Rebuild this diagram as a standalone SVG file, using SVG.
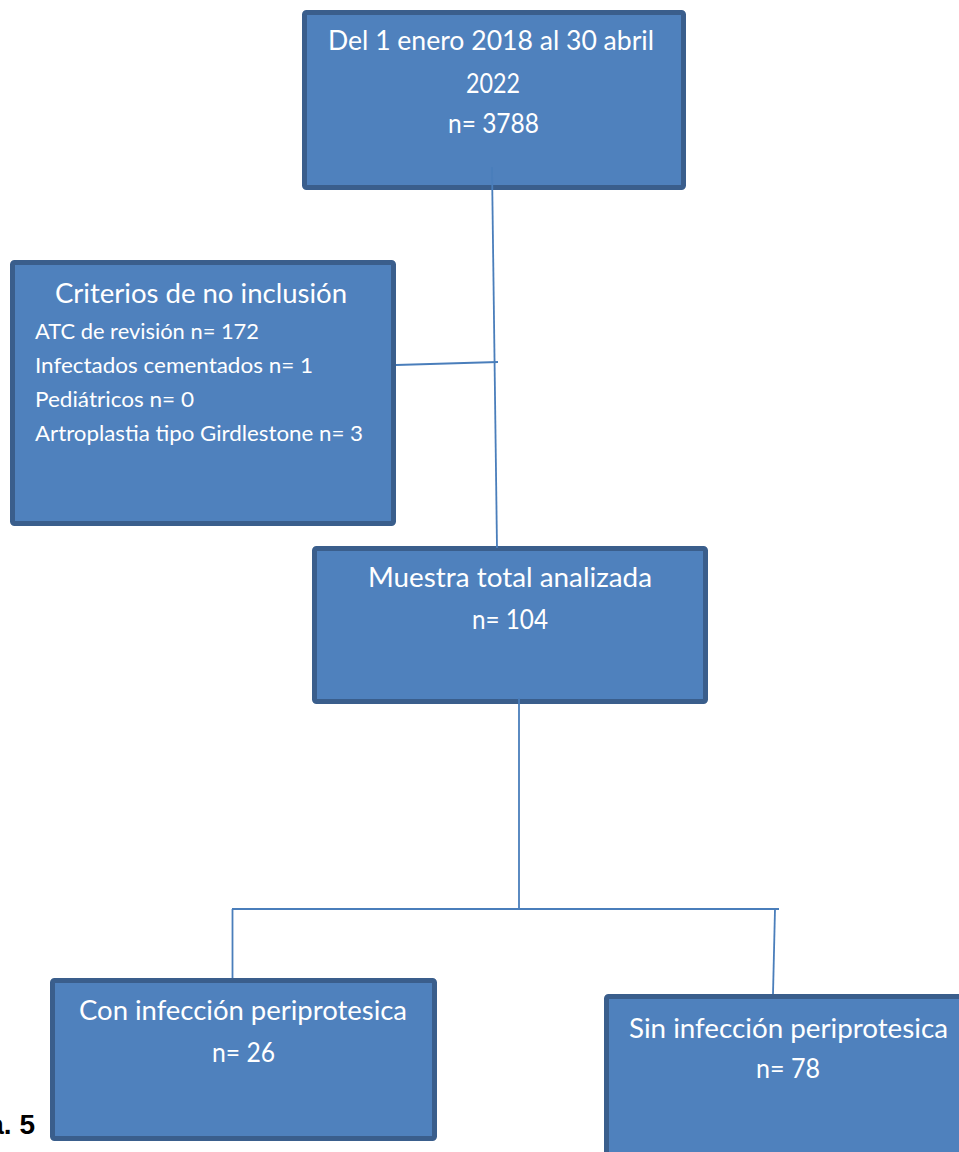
<svg xmlns="http://www.w3.org/2000/svg" width="959" height="1152" viewBox="0 0 959 1152">
<style>
.box{fill:#4F81BD;stroke:#3A5E8C;stroke-width:5}
.t{font-family:Lato,"Open Sans","Liberation Sans",sans-serif;fill:#fff;font-size:26px}
.s{font-size:21.5px}
.c{stroke:#4A7EBB;stroke-width:1.8;fill:none}
</style>
<rect width="959" height="1152" fill="#fff"/>
<g id="node-periodo">
<rect class="box" x="304.5" y="12.5" width="379" height="175" rx="2"/>
<text class="t" x="328" y="50" textLength="326" lengthAdjust="spacingAndGlyphs">Del 1 enero 2018 al 30 abril</text>
<text class="t" x="466" y="93" textLength="54" lengthAdjust="spacingAndGlyphs">2022</text>
<text class="t" x="448" y="133" textLength="91" lengthAdjust="spacingAndGlyphs">n= 3788</text>
</g>
<g id="node-criterios">
<rect class="box" x="12.5" y="262.5" width="381" height="261" rx="2"/>
<text class="t" x="55" y="303" textLength="292" lengthAdjust="spacingAndGlyphs">Criterios de no inclusión</text>
<text class="t s" x="35" y="339" textLength="224" lengthAdjust="spacingAndGlyphs">ATC de revisión n= 172</text>
<text class="t s" x="35" y="373" textLength="278" lengthAdjust="spacingAndGlyphs">Infectados cementados n= 1</text>
<text class="t s" x="35" y="407" textLength="159" lengthAdjust="spacingAndGlyphs">Pediátricos n= 0</text>
<text class="t s" x="35" y="441" textLength="328" lengthAdjust="spacingAndGlyphs">Artroplastia tipo Girdlestone n= 3</text>
</g>
<g id="node-muestra">
<rect class="box" x="314.5" y="548.5" width="391" height="153" rx="2"/>
<text class="t" x="368" y="587" textLength="284" lengthAdjust="spacingAndGlyphs">Muestra total analizada</text>
<text class="t" x="472" y="629" textLength="76" lengthAdjust="spacingAndGlyphs">n= 104</text>
</g>
<g id="node-con">
<rect class="box" x="52.5" y="980.5" width="382" height="158" rx="2"/>
<text class="t" x="79" y="1020" textLength="328" lengthAdjust="spacingAndGlyphs">Con infección periprotesica</text>
<text class="t" x="212" y="1062" textLength="63" lengthAdjust="spacingAndGlyphs">n= 26</text>
</g>
<g id="node-sin">
<rect class="box" x="606.5" y="996.5" width="400" height="200" rx="2"/>
<text class="t" x="629" y="1038" textLength="319" lengthAdjust="spacingAndGlyphs">Sin infección periprotesica</text>
<text class="t" x="756" y="1078" textLength="64" lengthAdjust="spacingAndGlyphs">n= 78</text>
</g>
<g id="connectors">
<line class="c" x1="492" y1="167" x2="497" y2="548"/>
<line class="c" x1="396" y1="365" x2="498" y2="362"/>
<line class="c" x1="519" y1="698" x2="519" y2="909"/>
<line class="c" x1="232" y1="909" x2="779" y2="909"/>
<line class="c" x1="232.5" y1="909" x2="232.5" y2="978"/>
<line class="c" x1="775" y1="909" x2="773" y2="994"/>
</g>
<text x="35" y="1134" text-anchor="end" font-family="'Liberation Sans',Arial,sans-serif" font-weight="bold" font-size="28" fill="#000">a. 5</text>
</svg>
